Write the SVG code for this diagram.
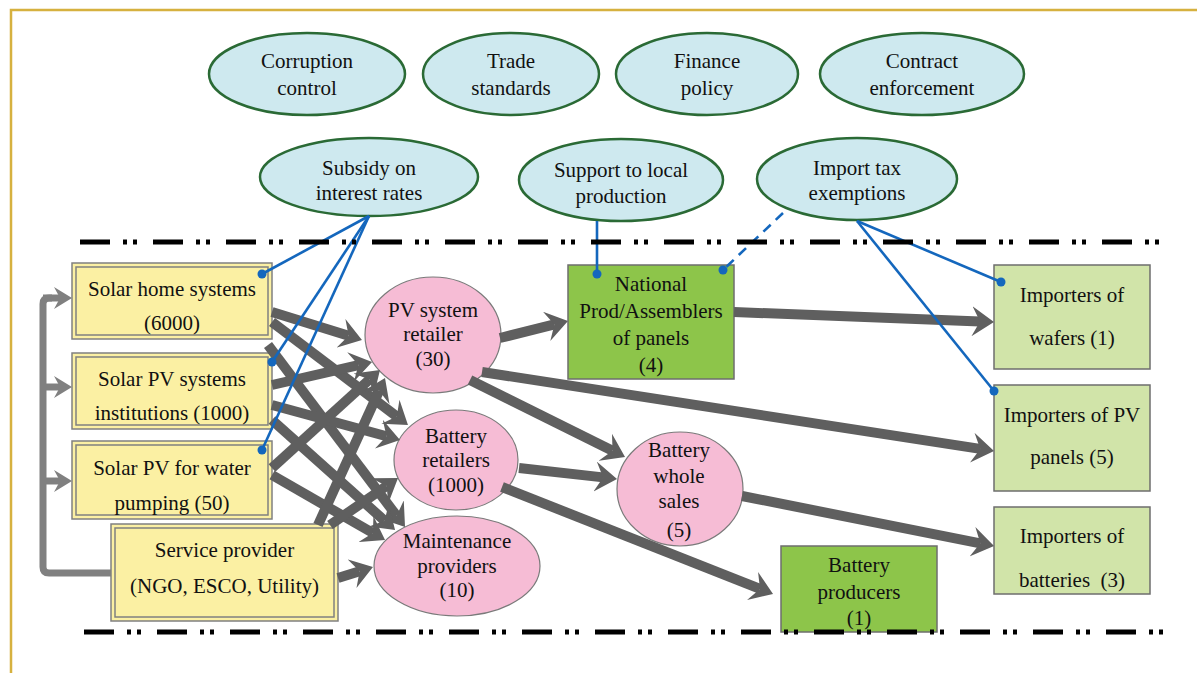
<svg xmlns="http://www.w3.org/2000/svg" width="1197" height="673" viewBox="0 0 1197 673">
<defs>
<style>
text{font-family:"Liberation Serif","Times New Roman",serif;font-size:21px;fill:#111;text-anchor:middle}
.pol{fill:#CEE9EF;stroke:#2A6A35;stroke-width:2.5}
.yel{fill:#FBF0A3;stroke:#808080;stroke-width:1.5}
.pink{fill:#F6BCD5;stroke:#7a7a7a;stroke-width:1.2}
.dg{fill:#8DC54A;stroke:#6E6E6E;stroke-width:1.5}
.lg{fill:#D1E4A9;stroke:#6E6E6E;stroke-width:1.5}
.arr{stroke:#5F5F5F;stroke-width:10;fill:none;marker-end:url(#ah)}
.fb{stroke:#808080;stroke-width:7;fill:none}
.fba{stroke:#808080;stroke-width:7;fill:none;marker-end:url(#ahg)}
.bl{stroke:#1467BD;stroke-width:2.6;fill:none;marker-end:url(#dot)}
.bld{stroke:#1467BD;stroke-width:2.6;fill:none;stroke-dasharray:10 7;marker-end:url(#dot)}
.sep{stroke:#000;stroke-width:5;fill:none;stroke-dasharray:30 13 4 6 4 16}
</style>
<marker id="ah" markerUnits="userSpaceOnUse" viewBox="0 0 22 30" markerWidth="22" markerHeight="30" refX="8" refY="15" orient="auto"><path d="M0,0 L22,15 L0,30 L8,15 z" fill="#5F5F5F"/></marker>
<marker id="ahg" markerUnits="userSpaceOnUse" viewBox="0 0 18 22" markerWidth="18" markerHeight="22" refX="6" refY="11" orient="auto"><path d="M0,0 L18,11 L0,22 L6,11 z" fill="#808080"/></marker>
<marker id="dot" markerUnits="userSpaceOnUse" viewBox="0 0 10 10" markerWidth="10" markerHeight="10" refX="5" refY="5"><circle cx="5" cy="5" r="4.5" fill="#1467BD"/></marker>
</defs>
<rect x="0" y="0" width="1197" height="673" fill="#fff"/>
<path d="M11,673 L11,10 L1197,10" fill="none" stroke="#D6B13F" stroke-width="2.5"/>

<g id="corruption"><ellipse class="pol" cx="307" cy="74" rx="98" ry="41"/><text x="307" y="68">Corruption</text><text x="307" y="95">control</text></g>
<g id="trade"><ellipse class="pol" cx="511" cy="74" rx="88" ry="41"/><text x="511" y="68">Trade</text><text x="511" y="95">standards</text></g>
<g id="finance"><ellipse class="pol" cx="707" cy="74" rx="91" ry="41"/><text x="707" y="68">Finance</text><text x="707" y="95">policy</text></g>
<g id="contract"><ellipse class="pol" cx="922" cy="74" rx="102" ry="41"/><text x="922" y="68">Contract</text><text x="922" y="95">enforcement</text></g>
<g id="subsidy"><ellipse class="pol" cx="369" cy="177" rx="109" ry="39"/><text x="369" y="175">Subsidy on</text><text x="369" y="200">interest rates</text></g>
<g id="support"><ellipse class="pol" cx="621" cy="180" rx="102" ry="41"/><text x="621" y="177">Support to local</text><text x="621" y="203">production</text></g>
<g id="importtax"><ellipse class="pol" cx="857" cy="179" rx="100" ry="41"/><text x="857" y="175">Import tax</text><text x="857" y="200">exemptions</text></g>

<g id="shs"><rect class="yel" x="72" y="263" width="200" height="76"/><rect class="yel" x="76" y="267" width="192" height="68"/><text x="172" y="296">Solar home systems</text><text x="172" y="330">(6000)</text></g>
<g id="spvi"><rect class="yel" x="72" y="353" width="200" height="76"/><rect class="yel" x="76" y="357" width="192" height="68"/><text x="172" y="386">Solar PV systems</text><text x="172" y="420">institutions (1000)</text></g>
<g id="spvw"><rect class="yel" x="72" y="441" width="200" height="78"/><rect class="yel" x="76" y="445" width="192" height="70"/><text x="172" y="475">Solar PV for water</text><text x="172" y="510">pumping (50)</text></g>
<g id="service"><rect class="yel" x="111" y="524" width="227" height="97"/><rect class="yel" x="115" y="528" width="219" height="89"/><text x="224.5" y="557">Service provider</text><text x="224.5" y="593">(NGO, ESCO, Utility)</text></g>

<g id="pvretailer"><ellipse class="pink" cx="433" cy="335" rx="68" ry="58"/><text x="433" y="317">PV system</text><text x="433" y="341">retailer</text><text x="433" y="366">(30)</text></g>
<g id="batretail"><ellipse class="pink" cx="456" cy="460" rx="62" ry="50"/><text x="456" y="443">Battery</text><text x="456" y="467">retailers</text><text x="456" y="492">(1000)</text></g>
<g id="batwhole"><ellipse class="pink" cx="680" cy="489" rx="63" ry="57"/><text x="679" y="457">Battery</text><text x="679" y="483">whole</text><text x="679" y="508">sales</text><text x="679" y="537">(5)</text></g>
<g id="maint"><ellipse class="pink" cx="457" cy="566" rx="83" ry="50"/><text x="457" y="548">Maintenance</text><text x="457" y="573">providers</text><text x="457" y="597">(10)</text></g>

<g id="national"><rect class="dg" x="568" y="265" width="166" height="114"/><text x="651" y="291">National</text><text x="651" y="318">Prod/Assemblers</text><text x="651" y="345">of panels</text><text x="651" y="372">(4)</text></g>
<g id="batprod"><rect class="dg" x="781" y="546" width="156" height="86"/><text x="859" y="572">Battery</text><text x="859" y="599">producers</text><text x="859" y="625">(1)</text></g>

<g id="impwafers"><rect class="lg" x="994" y="265" width="156" height="104"/><text x="1072" y="302">Importers of</text><text x="1072" y="345">wafers (1)</text></g>
<g id="imppanels"><rect class="lg" x="994" y="385" width="156" height="106"/><text x="1072" y="422">Importers of PV</text><text x="1072" y="464">panels (5)</text></g>
<g id="impbatt"><rect class="lg" x="994" y="507" width="156" height="87"/><text x="1072" y="543">Importers of</text><text x="1072" y="587" xml:space="preserve">batteries  (3)</text></g>

<g id="connectors">
<path class="fb" d="M111,573 L49,573 Q43,573 43,567 L43,304 Q43,298 49,298 L52,298"/>
<path class="fba" d="M43,298 L60,298"/>
<path class="fba" d="M43,387 L60,387"/>
<path class="fba" d="M43,481 L60,481"/>

<path class="arr" d="M272,312 L348.6,335.8"/>
<path class="arr" d="M272,322 L396.8,416.5"/>
<path class="arr" d="M268,345 L396.6,515.8"/>
<path class="arr" d="M272,385 L358.4,365.1"/>
<path class="arr" d="M272,405 L386.5,436.3"/>
<path class="arr" d="M272,420 L384.6,520.7"/>
<path class="arr" d="M272,468 L369.6,379.4"/>
<path class="arr" d="M272,475 L372.9,533"/>
<path class="arr" d="M318,525 L379.2,390.7"/>
<path class="arr" d="M330,525 L386.5,486"/>
<path class="arr" d="M338,578 L359.6,571.2"/>

<path class="arr" d="M500,338 L554.4,324.4"/>
<path class="arr" d="M734,312 L980,321.5"/>
<path class="arr" d="M482,372 L980.2,448.9"/>
<path class="arr" d="M470,380 L612.5,450.8"/>
<path class="arr" d="M519,468 L603.1,477.4"/>
<path class="arr" d="M502,487 L760,588.9"/>
<path class="arr" d="M742,496 L980.3,543.3"/>

<path class="bl" d="M369,216 L262,274"/>
<path class="bl" d="M369,216 L272,362"/>
<path class="bl" d="M369,216 L262,450"/>
<path class="bl" d="M597,221 L597,274"/>
<path class="bld" d="M783,213 L723,270"/>
<path class="bl" d="M857,221 L1001,282"/>
<path class="bl" d="M857,221 L994,391"/>
</g>

<path class="sep" d="M80,242 L1170,242"/>
<path class="sep" d="M84,632 L1172,632"/>
</svg>
